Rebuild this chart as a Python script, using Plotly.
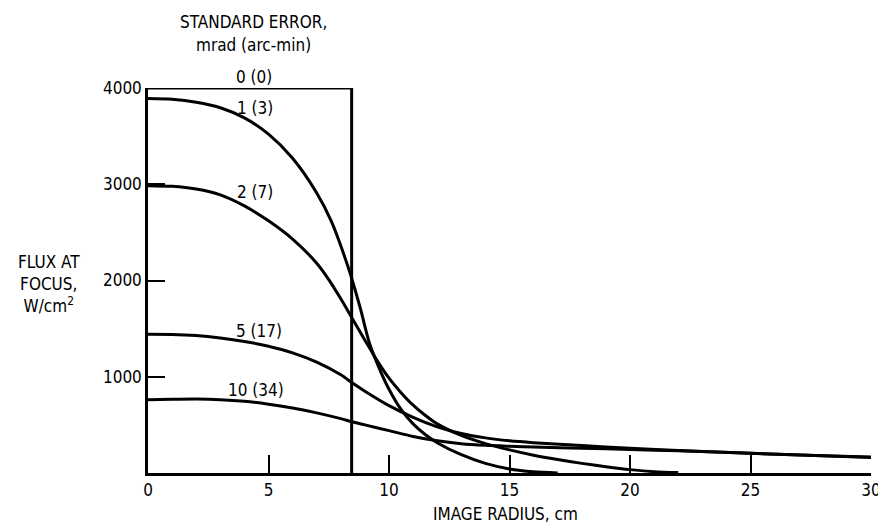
import plotly.graph_objects as go

# ---- data ----
x_ticks = [0, 5, 10, 15, 20, 25, 30]
y_ticks = [1000, 2000, 3000, 4000]
y_tick_labels = ["1000", "2000", "3000", "4000"]

# 0 (0): ideal image, uniform disk
x_e0 = [0, 8.45, 8.45]
y_e0 = [4000, 4000, 0]

# 1 (3)
x_e1 = [0, 1, 2, 3, 4, 5, 6, 7, 7.6, 8.3, 8.8, 9.2, 9.6, 10, 10.5, 11, 11.5, 12, 13, 14, 15, 16, 17]
y_e1 = [3890, 3882, 3852, 3795, 3690, 3520, 3270, 2910, 2620, 2142, 1720, 1340, 1085, 870, 660, 510, 400, 315, 190, 100, 42, 12, 0]

# 2 (7)
x_e2 = [0, 1, 2, 3, 4, 5, 6, 7, 7.5, 8, 8.5, 9, 9.5, 10, 10.5, 11, 11.5, 12, 13, 14, 15, 16, 17, 18, 19, 20, 21, 22]
y_e2 = [2985, 2978, 2950, 2890, 2775, 2620, 2430, 2180, 2010, 1810, 1595, 1380, 1170, 985, 835, 705, 600, 510, 390, 305, 240, 185, 140, 100, 65, 35, 14, 4]

# 5 (17)
x_e5 = [0, 1, 2, 3, 4, 5, 6, 7, 8, 8.5, 9, 10, 11, 12, 13, 14, 15, 16, 18, 20, 22, 25, 28, 30]
y_e5 = [1442, 1440, 1428, 1403, 1367, 1317, 1248, 1152, 1020, 932, 850, 700, 578, 480, 410, 365, 335, 315, 285, 258, 235, 205, 180, 165]

# 10 (34)
x_e10 = [0, 1, 2, 3, 4, 5, 6, 7, 8, 8.5, 9, 10, 11, 12, 13, 14, 15, 16, 18, 20, 22, 25, 28, 30]
y_e10 = [762, 765, 768, 762, 745, 715, 675, 625, 565, 530, 500, 440, 380, 335, 305, 288, 278, 270, 258, 245, 230, 205, 180, 160]

curve_labels = ["0 (0)", "1 (3)", "2 (7)", "5 (17)", "10 (34)"]
label_x = [4.4, 4.45, 4.45, 4.6, 4.5]
label_y = [4115, 3790, 2920, 1480, 860]

FONT = "Liberation Sans Narrow, DejaVu Sans Condensed, Arial Narrow, sans-serif"

fig = go.Figure()

fig.add_trace(go.Scatter(x=x_e0, y=y_e0, mode="lines",
                         line=dict(color="black", width=3),
                         cliponaxis=False, showlegend=False, hoverinfo="skip"))
for xs, ys in [(x_e1, y_e1), (x_e2, y_e2), (x_e5, y_e5), (x_e10, y_e10)]:
    fig.add_trace(go.Scatter(x=xs, y=ys, mode="lines",
                             line=dict(color="black", width=3, shape="spline", smoothing=0.8),
                             cliponaxis=False, showlegend=False, hoverinfo="skip"))

Y_MAX = 4000
for t, lx, ly in zip(curve_labels, label_x, label_y):
    fig.add_annotation(x=lx, y=ly / Y_MAX, xref="x", yref="paper", text=t, showarrow=False,
                       xanchor="center", yanchor="middle",
                       font=dict(family=FONT, size=17, color="black"))

# page geometry (the page body has an 8px margin, so shift everything by it)
OFF = 8
W, H = 886, 530
PL, PR, PT, PB = 148, 871, 88, 473  # plot area edges in page pixels
L = PL - OFF
T = PT - OFF
R = W - (PR - OFF)
B = H - (PB - OFF)
PW = PR - PL
PH = PB - PT


def px(xp, yp):
    return (xp - PL) / PW, (PB - yp) / PH


texts = [
    ("STANDARD ERROR,", 253, 22),
    ("mrad (arc-min)", 253, 45),
    ("FLUX AT<br>FOCUS,<br>W/cm<sup>2</sup>", 49, 284),
    ("IMAGE RADIUS, cm", 505, 514),
]
for t, xp, yp in texts:
    ax, ay = px(xp, yp)
    fig.add_annotation(x=ax, y=ay, xref="paper", yref="paper", text=t,
                       showarrow=False, xanchor="center", yanchor="middle", align="center",
                       font=dict(family=FONT, size=17, color="black"))

fig.update_layout(
    width=W, height=H,
    margin=dict(l=L, r=R, t=T, b=B),
    paper_bgcolor="white", plot_bgcolor="white",
    font=dict(family=FONT, size=17, color="black"),
    xaxis=dict(range=[0, 30], tickvals=x_ticks, ticktext=[str(v) for v in x_ticks],
               ticks="inside", ticklen=18, tickwidth=2, tickcolor="black",
               showline=True, linewidth=2.5, linecolor="black",
               showgrid=False, zeroline=False, fixedrange=True,
               tickfont=dict(family=FONT, size=17, color="black")),
    yaxis=dict(range=[0, Y_MAX], tickvals=y_ticks, ticktext=y_tick_labels,
               ticks="inside", ticklen=17, tickwidth=2, tickcolor="black",
               showline=True, linewidth=2.5, linecolor="black",
               showgrid=False, zeroline=False, fixedrange=True,
               tickfont=dict(family=FONT, size=17, color="black")),
)

fig.write_html("out.html")
